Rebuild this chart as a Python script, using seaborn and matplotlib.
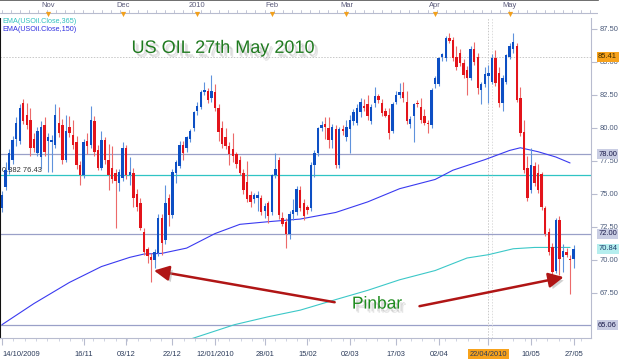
import numpy as np
import pandas as pd
import matplotlib
matplotlib.use("Agg")
import matplotlib.pyplot as plt
import matplotlib.patheffects as pe
import seaborn as sns

sns.set_style("white")
plt.rcParams['font.family'] = ['Liberation Sans', 'DejaVu Sans']

# daily candles USOil, 14/10/2009 -> 27/05/2010
opens = [73.9, 75.5, 76.8, 77.6, 79.2, 79.0, 81.9, 81.0, 80.6, 79.2, 78.1, 77.8, 80.2, 79.0, 78.9, 78.7,
         80.4, 80.2, 77.6, 80.1, 79.5, 78.9, 77.2, 76.4, 79.0, 78.7, 80.5, 78.3, 77.0, 79.1, 77.6, 77.0,
         76.6, 75.8, 76.2, 78.5, 76.4, 76.6, 75.0, 74.3, 72.1, 70.8, 70.2, 70.0, 70.5, 73.2, 71.5, 74.7,
         73.4, 76.6, 77.1, 78.7, 78.5, 79.2, 80.0, 81.3, 81.6, 82.7, 82.8, 82.3, 82.7, 81.5, 80.0, 79.3,
         78.6, 78.4, 78.0, 77.6, 76.6, 75.9, 74.9, 74.6, 74.7, 74.7, 73.7, 74.3, 73.6, 76.4, 77.6, 73.2,
         72.9, 72.0, 73.5, 73.6, 75.3, 74.3, 74.0, 73.9, 77.2, 78.1, 80.0, 80.3, 80.0, 79.1, 79.9, 77.2,
         79.9, 79.3, 79.9, 80.5, 80.4, 81.2, 81.7, 81.8, 80.5, 81.9, 82.4, 81.9, 81.3, 81.0, 79.8, 82.0,
         82.5, 82.7, 82.0, 80.3, 80.9, 81.9, 81.6, 80.9, 80.4, 80.2, 83.3, 83.3, 85.4, 85.3, 86.8, 86.7,
         85.4, 85.7, 84.9, 84.4, 83.8, 86.0, 85.4, 82.9, 83.3, 83.9, 83.5, 85.3, 84.2, 81.9, 83.5, 85.4,
         86.0, 86.2, 82.3, 79.7, 77.0, 75.3, 77.1, 76.6, 76.5, 73.9, 72.1, 71.0, 69.2, 73.0, 70.2, 70.6,
         70.1, 70.1]
highs = [75.2, 77.4, 78.4, 79.4, 80.8, 81.8, 82.2, 81.9, 81.5, 79.6, 80.1, 80.5, 80.8, 79.6, 79.5, 81.8,
         81.6, 80.7, 81.0, 80.9, 80.6, 79.4, 77.5, 79.2, 79.6, 81.7, 80.9, 78.7, 79.8, 79.3, 78.8, 78.6,
         76.9, 76.9, 78.9, 78.7, 77.8, 77.0, 75.4, 74.7, 72.4, 71.0, 70.5, 70.8, 73.5, 73.5, 75.7, 75.0,
         76.9, 77.6, 79.0, 79.0, 79.4, 79.9, 81.3, 82.0, 82.9, 83.5, 83.0, 84.0, 83.3, 81.8, 80.5, 80.0,
         78.9, 79.6, 78.2, 77.9, 76.9, 77.5, 75.2, 75.1, 75.2, 74.9, 74.3, 74.5, 76.5, 78.1, 77.8, 73.6,
         73.2, 73.7, 74.6, 75.6, 75.6, 74.6, 74.2, 77.4, 78.3, 80.1, 80.5, 80.8, 80.8, 80.3, 80.2, 80.1,
         80.2, 80.6, 81.0, 81.4, 81.8, 82.3, 82.2, 82.5, 81.8, 83.1, 82.6, 82.2, 81.5, 81.5, 82.0, 82.8,
         83.4, 83.5, 82.8, 80.9, 81.9, 82.1, 82.3, 81.4, 80.6, 83.0, 83.9, 85.4, 85.7, 87.0, 87.2, 86.9,
         86.2, 86.0, 85.2, 84.7, 86.2, 86.5, 85.7, 83.5, 84.6, 84.8, 85.6, 85.9, 84.6, 84.0, 85.6, 86.4,
         87.2, 86.4, 83.1, 80.6, 77.9, 78.5, 77.4, 77.3, 76.7, 74.1, 72.4, 71.3, 73.2, 73.3, 71.2, 70.9,
         70.4, 71.1]
lows = [73.6, 75.3, 76.5, 77.3, 78.6, 78.8, 80.3, 79.9, 77.9, 78.2, 77.9, 76.9, 77.9, 76.7, 76.7, 78.5,
        79.3, 77.3, 77.4, 79.3, 78.4, 76.9, 75.7, 76.2, 78.0, 78.5, 77.9, 76.8, 76.8, 77.3, 75.3, 75.8,
        72.4, 75.2, 76.0, 76.1, 75.7, 74.0, 73.7, 72.3, 70.4, 69.8, 68.3, 69.4, 70.3, 70.4, 71.2, 72.6,
        73.2, 75.8, 77.0, 77.6, 78.2, 78.9, 79.8, 81.0, 81.4, 82.5, 81.9, 82.0, 81.3, 79.0, 78.5, 78.4,
        77.2, 77.4, 77.0, 76.4, 75.0, 74.4, 74.0, 74.3, 73.7, 73.4, 73.2, 72.8, 73.4, 76.2, 73.1, 72.6,
        70.9, 71.6, 73.0, 73.4, 73.7, 73.0, 73.5, 73.7, 76.3, 77.9, 79.8, 79.2, 78.5, 78.5, 77.0, 77.0,
        79.5, 79.0, 78.1, 80.2, 80.2, 80.8, 81.3, 80.6, 80.3, 81.6, 81.9, 80.9, 80.8, 79.2, 79.6, 81.8,
        82.3, 82.0, 80.3, 80.0, 78.9, 81.6, 80.4, 80.2, 79.6, 80.0, 83.0, 83.2, 85.1, 85.1, 86.4, 85.1,
        84.4, 84.7, 83.8, 82.5, 83.6, 84.8, 82.6, 81.8, 83.1, 81.9, 83.3, 83.2, 81.6, 81.3, 83.3, 85.2,
        85.7, 82.0, 79.4, 76.6, 74.5, 75.1, 75.6, 75.1, 73.8, 71.8, 70.4, 68.9, 69.0, 68.9, 69.1, 70.2,
        67.4, 69.4]
closes = [74.9, 76.8, 78.1, 79.1, 80.4, 81.5, 80.5, 80.2, 78.5, 78.5, 79.8, 80.1, 78.2, 79.3, 79.1, 81.0,
          79.6, 77.6, 79.8, 79.6, 78.7, 77.2, 76.4, 78.9, 78.6, 80.6, 78.2, 77.0, 79.1, 77.6, 76.4, 76.1,
          76.0, 76.7, 78.5, 76.4, 76.7, 74.7, 74.0, 72.4, 70.6, 70.3, 70.0, 70.6, 73.2, 71.3, 74.3, 73.4,
          76.7, 77.4, 78.7, 78.1, 79.3, 79.8, 81.2, 81.7, 82.7, 82.9, 82.1, 82.8, 81.5, 79.7, 78.8, 78.6,
          78.0, 77.9, 77.3, 76.6, 75.3, 74.6, 74.4, 74.9, 74.9, 73.6, 74.1, 73.3, 76.4, 76.9, 73.4, 72.7,
          72.0, 73.5, 73.8, 75.4, 73.9, 73.3, 73.8, 77.2, 78.1, 80.0, 80.2, 80.1, 79.1, 80.1, 77.2, 79.9,
          79.8, 80.1, 80.6, 81.2, 81.5, 82.0, 81.5, 80.9, 81.6, 82.4, 82.1, 81.1, 80.9, 79.6, 81.8, 82.5,
          82.7, 82.3, 80.5, 80.7, 81.8, 81.8, 80.6, 80.4, 80.3, 82.9, 83.8, 85.3, 85.6, 86.8, 86.6, 85.3,
          84.6, 84.9, 84.0, 83.8, 86.0, 85.0, 83.0, 83.3, 84.1, 84.2, 85.3, 83.4, 81.9, 83.8, 85.5, 86.2,
          86.5, 82.1, 79.6, 76.8, 74.7, 77.2, 75.8, 75.3, 74.0, 72.0, 70.6, 69.1, 73.0, 70.1, 70.7, 70.4,
          70.0, 70.8]

# EMA curves sampled along the chart (candle index, price)
ema150_idx = [0, 9, 19, 28, 36, 40, 45, 52, 60, 67, 75, 84, 94, 103, 112, 122, 127, 136, 143, 146, 151, 156, 160]
ema150 = [65.1, 66.7, 68.3, 69.5, 70.2, 70.45, 70.5, 70.9, 72.0, 72.7, 72.9, 73.1, 73.6, 74.4, 75.4, 76.1,
          76.8, 77.6, 78.3, 78.5, 78.2, 77.8, 77.35]
ema365_idx = [53, 65.5, 75, 84, 94, 103, 112, 122, 131, 137, 144, 150, 160]
ema365 = [64.0, 65.1, 65.7, 66.2, 67.0, 67.7, 68.5, 69.2, 70.15, 70.4, 70.85, 70.95, 70.95]

levels = [78.00, 72.00, 65.06]
fib_level = 76.43
cross_price = 85.41
cross_day = 137
ema365_last = 70.84

bottom_labels = ['14/10/2009', '16/11', '03/12', '22/12', '12/01/2010', '28/01', '15/02',
                 '02/03', '17/03', '02/04', '22/04/2010', '10/05', '27/05']
bottom_idx = [0, 23, 35, 48, 60, 74, 86, 98, 111, 123, 137, 149, 161]
month_labels = ['Nov', 'Dec', '2010', 'Feb', 'Mar', 'Apr', 'May']
month_idx = [13, 34, 55, 76, 97, 122, 143]
price_ticks = [67.5, 70.0, 72.5, 75.0, 77.5, 80.0, 82.5, 85.0, 87.5]

df = pd.DataFrame({'open': opens, 'high': highs, 'low': lows, 'close': closes})
df['idx'] = np.arange(len(df))
df['up'] = df['close'] >= df['open']

UP, DOWN = '#0d4fc4', '#e3141b'
UP_W, DOWN_W = '#5f92dc', '#ec6a6a'
LEVEL = '#9aa0c8'

fig = plt.figure(figsize=(6.25, 3.6), dpi=100)
ax = fig.add_axes([0, 22 / 360, 591 / 625, 320 / 360])
ax_top = fig.add_axes([0, 342 / 360, 598 / 625, 18 / 360])

xlim = (-0.56, 165.9)
ax.set_xlim(*xlim)
ax.set_ylim(64.09, 88.33)

# levels / crosshair
for lv in levels:
    ax.axhline(lv, color=LEVEL, lw=0.9, zorder=1)
ax.axhline(fib_level, color='#2fc4c4', lw=0.9, zorder=1)
ax.axhline(cross_price, color='#c8c8c8', lw=0.7, ls=(0, (1.5, 1.5)), zorder=1)
ax.axvline(cross_day, color='#c8c8c8', lw=0.7, ls=(0, (1.5, 1.5)), zorder=1)
ax.axvline(cross_day + 1, color='#dcdcdc', lw=0.7, ls=(0, (1.5, 1.5)), zorder=1)

# EMAs
sns.lineplot(x=ema150_idx, y=ema150, ax=ax, color='#3a3af0', lw=0.8, estimator=None, sort=False, zorder=2)
sns.lineplot(x=ema365_idx, y=ema365, ax=ax, color='#3cc8c8', lw=0.8, estimator=None, sort=False, zorder=2)

# candles
for _, r in df.iterrows():
    c = UP if r['up'] else DOWN
    cw = UP_W if r['up'] else DOWN_W
    ax.vlines(r['idx'], r['low'], r['high'], color=cw, lw=0.8, zorder=3)
    lo = min(r['open'], r['close'])
    h = max(abs(r['close'] - r['open']), 0.08)
    ax.bar(r['idx'], h, bottom=lo, width=0.68, color=c, linewidth=0, zorder=4)

# bottom axis
ax.set_xticks(bottom_idx)
ax.set_xticklabels(bottom_labels)
ax.set_xticks(np.arange(0, 166, 3.2), minor=True)
ax.tick_params(axis='x', which='major', length=5, color='#b8bccf', labelsize=5.4,
               labelcolor='#2a3a5a', pad=4, bottom=True)
ax.tick_params(axis='x', which='minor', length=2.5, color='#c8ccdc', bottom=True)
labs = ax.get_xticklabels()
labs[0].set_ha('left')
labs[10].set_bbox(dict(facecolor='#f7a21b', edgecolor='none', pad=1))

# right axis
ax.yaxis.tick_right()
ax.set_yticks(price_ticks)
ax.set_yticklabels([f'{p:.2f}' for p in price_ticks])
ax.tick_params(axis='y', length=4, color='#b8bccf', labelsize=5.4, labelcolor='#4a5a7a', pad=2, right=True)

for s in ['top', 'right', 'bottom']:
    ax.spines[s].set_color('#b8bccf')
    ax.spines[s].set_linewidth(0.8)
ax.spines['left'].set_color('#111111')
ax.spines['left'].set_linewidth(1.5)
ax.spines['top'].set_visible(False)

# price tags on the right
ytr = ax.get_yaxis_transform()
tag_style = dict(transform=ytr, ha='left', va='center', fontsize=5.4, clip_on=False, zorder=6)
ax.text(1.012, cross_price, f'{cross_price:.2f}', color='#3a2a00',
        bbox=dict(boxstyle='square,pad=0.2', fc='#f7a21b', ec='none'), **tag_style)
for lv in levels:
    ax.text(1.012, lv, f'{lv:.2f}', color='#1a1a4a',
            bbox=dict(boxstyle='square,pad=0.2', fc='#c9cde3', ec='none'), **tag_style)
ax.text(1.012, ema365_last, f'{ema365_last:.2f}', color='#1a3a6a',
        bbox=dict(boxstyle='square,pad=0.2', fc='#b5eeee', ec='none'), **tag_style)

# legend text
ax.text(0.004, 0.988, 'EMA(USOil.Close,365)', transform=ax.transAxes, fontsize=5.2, color='#33c0c0', va='center')
ax.text(0.004, 0.963, 'EMA(USOil.Close,150)', transform=ax.transAxes, fontsize=5.2, color='#3030e0', va='center')
ax.text(0.004, fib_level + 0.12, f'0.382 {fib_level:.2f}', transform=ytr, fontsize=5.4, color='#333333', va='bottom')

# title and annotation, soft drop shadow
shadow = [pe.SimplePatchShadow(offset=(3, -3), shadow_rgbFace='#999999', alpha=0.25),
          pe.SimplePatchShadow(offset=(2, -2), shadow_rgbFace='#999999', alpha=0.3),
          pe.Normal()]
ax.text(0.377, 0.905, 'US OIL 27th May 2010', transform=ax.transAxes, ha='center', va='center',
        fontsize=13, color='#1f7a1f', path_effects=shadow, zorder=7)
ax.text(0.638, 0.106, 'Pinbar', transform=ax.transAxes, ha='center', va='center',
        fontsize=12.5, color='#1e8c1e', path_effects=shadow, zorder=7)

pins = [42, 160]
arrow_props = dict(arrowstyle='-|>,head_length=0.9,head_width=0.45', color='#b01515', lw=1.8,
                   shrinkA=0, shrinkB=0, mutation_scale=10,
                   path_effects=[pe.SimplePatchShadow(offset=(2, -2), shadow_rgbFace='#999999', alpha=0.45), pe.Normal()])
ax.annotate('', xy=(pins[0] + 0.8, df['low'][pins[0]] + 0.9), xytext=(93.7, 66.8), arrowprops=arrow_props, zorder=7)
ax.annotate('', xy=(pins[1] - 1.8, df['low'][pins[1]] + 1.3), xytext=(117.6, 66.5), arrowprops=arrow_props, zorder=7)

# top month strip
ax_top.set_xlim(xlim[0], xlim[0] + (xlim[1] - xlim[0]) * 598 / 591)
ax_top.set_ylim(0, 1)
ax_top.axhline(0.28, color='#b8bccf', lw=0.8)
for t in np.arange(0, 166, 2.55):
    ax_top.plot([t, t], [0.28, 0.42], color='#b8bccf', lw=0.6)
ax_top.scatter(month_idx, [0.2] * len(month_idx), marker='v', s=14, color='#f2a01c', zorder=3, linewidths=0)
for m, lab in zip(month_idx, month_labels):
    ax_top.text(m, 0.72, lab, ha='center', va='center', fontsize=5.4, color='#5a5a7a')
ax_top.set_xticks([])
ax_top.set_yticks([])
for s in ['left', 'right', 'bottom']:
    ax_top.spines[s].set_visible(False)
ax_top.spines['top'].set_color('#555555')
ax_top.spines['top'].set_linewidth(1.2)

fig.savefig('out.png', dpi=100)
